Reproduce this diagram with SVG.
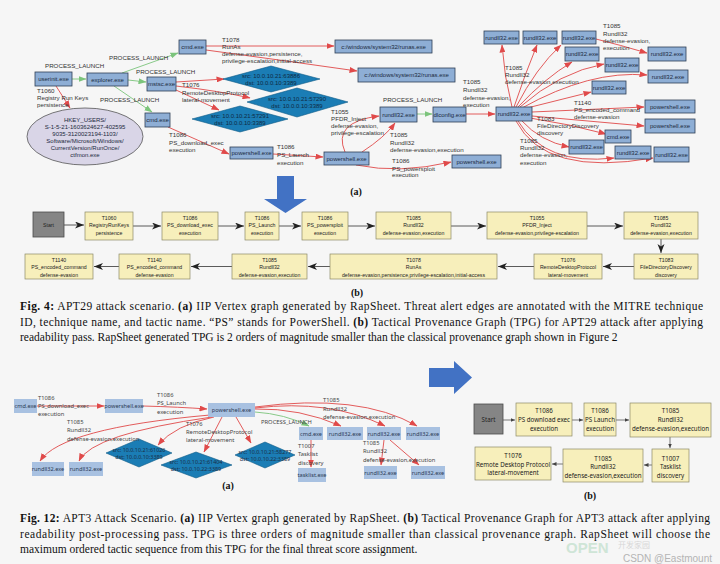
<svg xmlns="http://www.w3.org/2000/svg" width="720" height="564" viewBox="0 0 720 564">
<defs>
<style>
.box{fill:#8eaed5;stroke:#2f3f55;stroke-width:0.8}
.bt{font-family:"Liberation Sans",Arial,sans-serif;font-size:6px;fill:#1c2a3e;text-anchor:middle}
.lbl{font-family:"Liberation Sans",Arial,sans-serif;font-size:6.2px;fill:#333}
.re{stroke:#e04a4a;fill:none;stroke-width:0.9;marker-end:url(#ar)}
.ge{stroke:#7cc47c;fill:none;stroke-width:0.9;marker-end:url(#ag)}
.dia{fill:#1b7db5;stroke:#0e5a87;stroke-width:0.6}
.dt{font-family:"Liberation Sans",Arial,sans-serif;font-size:6px;fill:#0f2a44;text-anchor:middle}
.tpg{fill:#f7efbb;stroke:#8c8a68;stroke-width:0.7}
.start{fill:#858585;stroke:#4a4a4a;stroke-width:0.8}
.tt{font-family:"Liberation Sans",Arial,sans-serif;font-size:5.2px;fill:#222;text-anchor:middle}
.ka{stroke:#333;stroke-width:0.8;fill:none;marker-end:url(#ak)}
.ks{stroke:#444;stroke-width:0.7;fill:none;marker-end:url(#ak2)}
.bb{fill:#a8c1e1}
.bbt{font-family:"Noto Sans","Liberation Sans",sans-serif;font-size:5.6px;fill:#2b3a55;text-anchor:middle}
.bl{font-family:"Noto Sans","Liberation Sans",sans-serif;font-size:5.8px;fill:#444}
.bdt{font-family:"Noto Sans","Liberation Sans",sans-serif;font-size:5.4px;fill:#1a2f47;text-anchor:middle}
.tb{font-family:"Noto Sans","Liberation Sans",sans-serif;font-size:6.2px;fill:#222;text-anchor:middle}
.cap{font-family:"Liberation Serif","Times New Roman",serif;font-size:11.5px;fill:#111}
.sub{font-family:"Liberation Serif","Times New Roman",serif;font-size:10px;font-weight:bold;fill:#111;text-anchor:middle}
.big{fill:#4272c4}
</style>
<marker id="ar" markerUnits="userSpaceOnUse" markerWidth="8" markerHeight="6" refX="7.5" refY="3" orient="auto"><path d="M0,0 L8,3 L0,6 z" fill="#e04a4a"/></marker>
<marker id="ag" markerUnits="userSpaceOnUse" markerWidth="8" markerHeight="6" refX="7.5" refY="3" orient="auto"><path d="M0,0 L8,3 L0,6 z" fill="#7cc47c"/></marker>
<marker id="ak" markerUnits="userSpaceOnUse" markerWidth="10" markerHeight="8" refX="9" refY="3.5" orient="auto"><path d="M0,0 L9,3.5 L0,7 L2.5,3.5 z" fill="#222"/></marker>
<marker id="ak2" markerUnits="userSpaceOnUse" markerWidth="5" markerHeight="4" refX="4.5" refY="2" orient="auto"><path d="M0,0 L4.5,2 L0,4 z" fill="#444"/></marker>
</defs>
<rect x="0" y="0" width="720" height="564" fill="#f6f6f6"/>

<!-- ===== Top graph (a) connectors ===== -->
<g id="top-edges">
<path class="ge" d="M72,79 L86,79"/>
<path class="re" d="M56,86 L70,108"/>
<path class="ge" d="M122,73 L178,53"/>
<path class="ge" d="M128,80 L146,82"/>
<path class="ge" d="M114,86 L152,112"/>
<path class="re" d="M206,46 L334,46"/>
<path class="re" d="M206,50 Q280,60 357,71"/>
<path class="re" d="M176,82 L224,79"/>
<path class="re" d="M176,86 Q220,91 250,98"/>
<path class="re" d="M176,90 L219,110"/>
<path class="re" d="M168,127 L229,154"/>
<path class="re" d="M273,154 L323,157"/>
<path class="re" d="M345,152 Q332,122 379,116"/>
<path class="re" d="M362,152 Q385,137 395,123"/>
<path class="re" d="M356,165 Q400,174 451,162"/>
<path class="ge" d="M417,114 L432,114"/>
<path class="re" d="M466,114 L495,114"/>
<path class="re" d="M512,107 Q504,76 502,45"/>
<path class="re" d="M514,107 Q525,74 537,45"/>
<path class="re" d="M516,107 Q536,68 561,45"/>
<path class="re" d="M518,107 Q545,78 572,62"/>
<path class="re" d="M520,107 Q560,72 604,64"/>
<path class="re" d="M522,108 Q590,70 647,75"/>
<path class="re" d="M527,108 L591,92"/>
<path class="re" d="M532,112 L644,107"/>
<path class="re" d="M532,116 L644,126"/>
<path class="re" d="M530,118 Q570,124 606,134"/>
<path class="re" d="M522,121 Q540,141 569,147"/>
<path class="re" d="M518,121 Q545,166 614,158"/>
<path class="re" d="M516,121 Q545,177 653,158"/>
<path class="re" d="M596,39 Q620,45 647,53"/>
</g>

<!-- ===== Top graph nodes ===== -->
<g id="n-userinit"><rect class="box" x="35" y="72" width="37" height="14"/><text class="bt" x="53.5" y="81.2">userinit.exe</text></g>
<g id="n-explorer"><rect class="box" x="87" y="73" width="41" height="13"/><text class="bt" x="107.5" y="81.7">explorer.exe</text></g>
<g id="n-cmd1"><rect class="box" x="179" y="40" width="27" height="14"/><text class="bt" x="192.5" y="49.2">cmd.exe</text></g>
<g id="n-mstsc"><rect class="box" x="147" y="77" width="29" height="14"/><text class="bt" x="161.5" y="86.2">mstsc.exe</text></g>
<g id="n-cmd2"><rect class="box" x="145" y="113" width="25" height="14"/><text class="bt" x="157.5" y="122.2">cmd.exe</text></g>
<g id="n-hkey">
<ellipse cx="85" cy="136.5" rx="58" ry="28.5" fill="#d9d5e7" stroke="#555" stroke-width="0.8"/>
<text class="bt" x="85"><tspan x="85" y="121.5">HKEY_USERS/</tspan><tspan x="85" y="128.5">S-1-5-21-1603624627-402595</tspan><tspan x="85" y="135.5">9035-3120023194-1103/</tspan><tspan x="85" y="142.5">Software/Microsoft/Windows/</tspan><tspan x="85" y="149.5">CurrentVersion/RunOnce/</tspan><tspan x="85" y="156.5">ctfmon.exe</tspan></text>
</g>
<g id="n-runas1"><rect class="box" x="335" y="40" width="97" height="13"/><text class="bt" x="383.5" y="48.7">c:/windows/system32/runas.exe</text></g>
<g id="n-runas2"><rect class="box" x="358" y="68" width="97" height="14"/><text class="bt" x="406.5" y="77.2">c:/windows/system32/runas.exe</text></g>
<g id="n-d1"><polygon class="dia" points="223,79 271,66 320,79 271,92"/><text class="dt"><tspan x="271" y="77.5">src: 10.0.10.21:63886</tspan><tspan x="271" y="84.5">dst: 10.0.0.10:3389</tspan></text></g>
<g id="n-d2"><polygon class="dia" points="247,102 297,88 348,102 297,117"/><text class="dt"><tspan x="297" y="100.5">src: 10.0.10.21:57290</tspan><tspan x="297" y="107.5">dst: 10.0.0.10:3389</tspan></text></g>
<g id="n-d3"><polygon class="dia" points="192,119 240,106 288,119 240,132"/><text class="dt"><tspan x="240" y="117.5">src: 10.0.10.21:57291</tspan><tspan x="240" y="124.5">dst: 10.0.0.10:3389</tspan></text></g>
<g id="n-ps1"><rect class="box" x="230" y="147" width="43" height="12"/><text class="bt" x="251.5" y="155.2">powershell.exe</text></g>
<g id="n-ps2"><rect class="box" x="324" y="152" width="45" height="13"/><text class="bt" x="346.5" y="160.7">powershell.exe</text></g>
<g id="n-rmid"><rect class="box" x="380" y="107" width="37" height="15"/><text class="bt" x="398.5" y="116.7">rundll32.exe</text></g>
<g id="n-dlconfig"><rect class="box" x="433" y="107" width="33" height="15"/><text class="bt" x="449.5" y="116.7">dlconfig.exe</text></g>
<g id="n-ps3"><rect class="box" x="452" y="155" width="49" height="13"/><text class="bt" x="476.5" y="163.7">powershell.exe</text></g>
<g id="n-rc"><rect class="box" x="496" y="107" width="36" height="14"/><text class="bt" x="514" y="116.2">rundll32.exe</text></g>
<g id="n-r1"><rect class="box" x="484" y="31" width="35" height="13"/><text class="bt" x="501.5" y="39.7">rundll32.exe</text></g>
<g id="n-r2"><rect class="box" x="523" y="31" width="34" height="13"/><text class="bt" x="540" y="39.7">rundll32.exe</text></g>
<g id="n-r3"><rect class="box" x="562" y="31" width="34" height="13"/><text class="bt" x="579" y="39.7">rundll32.exe</text></g>
<g id="n-r4"><rect class="box" x="565" y="47" width="34" height="14"/><text class="bt" x="582" y="56.2">rundll32.exe</text></g>
<g id="n-r5"><rect class="box" x="648" y="47" width="38" height="14"/><text class="bt" x="667" y="56.2">rundll32.exe</text></g>
<g id="n-r6"><rect class="box" x="605" y="58" width="34" height="14"/><text class="bt" x="622" y="67.2">rundll32.exe</text></g>
<g id="n-r7"><rect class="box" x="648" y="70" width="40" height="13"/><text class="bt" x="668" y="78.7">rundll32.exe</text></g>
<g id="n-r8"><rect class="box" x="592" y="81" width="34" height="13"/><text class="bt" x="609" y="89.7">rundll32.exe</text></g>
<g id="n-ps4"><rect class="box" x="645" y="100" width="50" height="13"/><text class="bt" x="670" y="108.7">powershell.exe</text></g>
<g id="n-ps5"><rect class="box" x="645" y="119" width="50" height="14"/><text class="bt" x="670" y="128.2">powershell.exe</text></g>
<g id="n-cmd3"><rect class="box" x="605" y="130" width="26" height="13"/><text class="bt" x="618" y="138.7">cmd.exe</text></g>
<g id="n-r9"><rect class="box" x="569" y="140" width="35" height="14"/><text class="bt" x="586.5" y="149.2">rundll32.exe</text></g>
<g id="n-r10"><rect class="box" x="615" y="146" width="36" height="13"/><text class="bt" x="633" y="154.7">rundll32.exe</text></g>
<g id="n-r11"><rect class="box" x="654" y="147" width="35" height="15"/><text class="bt" x="671.5" y="156.7">rundll32.exe</text></g>

<!-- top edge labels -->
<g id="top-labels" class="lbl">
<text x="45" y="68">PROCESS_LAUNCH</text>
<text x="109" y="60">PROCESS_LAUNCH</text>
<text x="136" y="74">PROCESS_LAUNCH</text>
<text x="100" y="102">PROCESS_LAUNCH</text>
<text x="383" y="102">PROCESS_LAUNCH</text>
<text><tspan x="37" y="93">T1060</tspan><tspan x="37" y="100">Registry Run Keys</tspan><tspan x="37" y="107">persistence</tspan></text>
<text><tspan x="222" y="41.5">T1078</tspan><tspan x="222" y="48.5">RunAs</tspan><tspan x="222" y="55.5">defense-evasion,persistence,</tspan><tspan x="222" y="62.5">privilege-escalation,initial-access</tspan></text>
<text><tspan x="182" y="87">T1076</tspan><tspan x="182" y="94.5">RemoteDesktopProtocol</tspan><tspan x="182" y="101.5">lateral-movement</tspan></text>
<text><tspan x="169" y="137">T1086</tspan><tspan x="169" y="144.5">PS_download_exec</tspan><tspan x="169" y="151.5">execution</tspan></text>
<text><tspan x="277" y="149">T1086</tspan><tspan x="277" y="157">PS_Launch</tspan><tspan x="277" y="164.5">execution</tspan></text>
<text><tspan x="331" y="114">T1055</tspan><tspan x="331" y="120.5">PFDR_Inject</tspan><tspan x="331" y="128">defense-evasion,</tspan><tspan x="331" y="135">privilege-escalation</tspan></text>
<text><tspan x="390" y="137">T1085</tspan><tspan x="390" y="144.5">Rundll32</tspan><tspan x="390" y="151.5">defense-evasion,execution</tspan></text>
<text><tspan x="392" y="163">T1086</tspan><tspan x="392" y="170.5">PS_powersploit</tspan><tspan x="392" y="177">execution</tspan></text>
<text><tspan x="463" y="84">T1085</tspan><tspan x="463" y="92">Rundll32</tspan><tspan x="463" y="100">defense-evasion,</tspan><tspan x="463" y="107">execution</tspan></text>
<text><tspan x="603" y="28">T1085</tspan><tspan x="603" y="35.5">Rundll32</tspan><tspan x="603" y="43">defense-evasion,</tspan><tspan x="603" y="50">execution</tspan></text>
<text><tspan x="505" y="69.5">T1085</tspan><tspan x="505" y="76.5">Rundll32</tspan><tspan x="505" y="83.5">defense-evasion,execution</tspan></text>
<text><tspan x="574" y="105">T1140</tspan><tspan x="574" y="111.5">PS_encoded_command</tspan><tspan x="574" y="119">defense-evasion</tspan></text>
<text><tspan x="537" y="120.5">T1083</tspan><tspan x="537" y="128">FileDirectoryDiscovery</tspan><tspan x="537" y="134.5">discovery</tspan></text>
<text><tspan x="520" y="143">T1085</tspan><tspan x="520" y="150">Rundll32</tspan><tspan x="520" y="157">defense-evasion,</tspan><tspan x="520" y="164.5">execution</tspan></text>
</g>
<text class="sub" x="356" y="195">(a)</text>

<!-- big down arrow -->
<path class="big" d="M277,176 L294,176 L294,199 L307,199 L285.5,213 L264,199 L277,199 z"/>

<!-- ===== TPG (b) top ===== -->
<g id="tpg1-edges">
<path class="ka" d="M64,225 L84,225"/>
<path class="ka" d="M133,226 L161,226"/>
<path class="ka" d="M218,226 L244,226"/>
<path class="ka" d="M279,226 L301,226"/>
<path class="ka" d="M348,226 L375,226"/>
<path class="ka" d="M451,226 L486,226"/>
<path class="ka" d="M587,226 L623,226"/>
<path class="ka" d="M661,239 L661,253"/>
<path class="ka" d="M634,266.5 L603,266.5"/>
<path class="ka" d="M534,266.5 L498,266.5"/>
<path class="ka" d="M330,266.5 L308,266.5"/>
<path class="ka" d="M232,266.5 L191,266.5"/>
<path class="ka" d="M119,266.5 L94,266.5"/>
</g>
<g id="t-start"><rect class="start" x="33" y="212" width="31" height="25"/><text class="tt" x="48.5" y="226.5" fill="#222">Start</text></g>
<g id="t-1060"><rect class="tpg" x="85" y="212" width="48" height="28"/><text class="tt"><tspan x="109" y="219.5">T1060</tspan><tspan x="109" y="227">RegistryRunKeys</tspan><tspan x="109" y="234.5">persistence</tspan></text></g>
<g id="t-1086a"><rect class="tpg" x="162" y="212" width="56" height="28"/><text class="tt"><tspan x="190" y="219.5">T1086</tspan><tspan x="190" y="227">PS_download_exec</tspan><tspan x="190" y="234.5">execution</tspan></text></g>
<g id="t-1086b"><rect class="tpg" x="245" y="212" width="34" height="28"/><text class="tt"><tspan x="262" y="219.5">T1086</tspan><tspan x="262" y="227">PS_Launch</tspan><tspan x="262" y="234.5">execution</tspan></text></g>
<g id="t-1086c"><rect class="tpg" x="302" y="212" width="46" height="28"/><text class="tt"><tspan x="325" y="219.5">T1086</tspan><tspan x="325" y="227">PS_powersploit</tspan><tspan x="325" y="234.5">execution</tspan></text></g>
<g id="t-1085a"><rect class="tpg" x="376" y="212" width="75" height="27"/><text class="tt"><tspan x="413.5" y="219.5">T1085</tspan><tspan x="413.5" y="227">Rundll32</tspan><tspan x="413.5" y="234.5">defense-evasion,execution</tspan></text></g>
<g id="t-1055"><rect class="tpg" x="487" y="212" width="100" height="27"/><text class="tt"><tspan x="537" y="219.5">T1055</tspan><tspan x="537" y="227">PFDR_Inject</tspan><tspan x="537" y="234.5">defense-evasion,privilege-escalation</tspan></text></g>
<g id="t-1085b"><rect class="tpg" x="624" y="212" width="74" height="27"/><text class="tt"><tspan x="661" y="219.5">T1085</tspan><tspan x="661" y="227">Rundll32</tspan><tspan x="661" y="234.5">defense-evasion,execution</tspan></text></g>
<g id="t-1083"><rect class="tpg" x="634" y="254" width="64" height="25"/><text class="tt"><tspan x="666" y="261.5">T1083</tspan><tspan x="666" y="269">FileDirectoryDiscovery</tspan><tspan x="666" y="276.5">discovery</tspan></text></g>
<g id="t-1076"><rect class="tpg" x="534" y="254" width="68" height="25"/><text class="tt"><tspan x="568" y="261.5">T1076</tspan><tspan x="568" y="269">RemoteDesktopProtocol</tspan><tspan x="568" y="276.5">lateral-movement</tspan></text></g>
<g id="t-1078"><rect class="tpg" x="330" y="254" width="167" height="25"/><text class="tt"><tspan x="413.5" y="261.5">T1078</tspan><tspan x="413.5" y="269">RunAs</tspan><tspan x="413.5" y="276.5">defense-evasion,persistence,privilege-escalation,initial-access</tspan></text></g>
<g id="t-1085c"><rect class="tpg" x="232" y="254" width="75" height="25"/><text class="tt"><tspan x="269.5" y="261.5">T1085</tspan><tspan x="269.5" y="269">Rundll32</tspan><tspan x="269.5" y="276.5">defense-evasion,execution</tspan></text></g>
<g id="t-1140a"><rect class="tpg" x="119" y="254" width="71" height="25"/><text class="tt"><tspan x="154.5" y="261.5">T1140</tspan><tspan x="154.5" y="269">PS_encoded_command</tspan><tspan x="154.5" y="276.5">defense-evasion</tspan></text></g>
<g id="t-1140b"><rect class="tpg" x="25" y="254" width="68" height="25"/><text class="tt"><tspan x="59" y="261.5">T1140</tspan><tspan x="59" y="269">PS_encoded_command</tspan><tspan x="59" y="276.5">defense-evasion</tspan></text></g>
<text class="sub" x="357" y="296">(b)</text>

<!-- caption Fig 4 -->
<g id="cap4" class="cap">
<text x="20" y="310" textLength="683" lengthAdjust="spacing"><tspan font-weight="bold">Fig. 4:</tspan> APT29 attack scenario. <tspan font-weight="bold">(a)</tspan> IIP Vertex graph generated by RapSheet. Threat alert edges are annotated with the MITRE technique</text>
<text x="20" y="325.5" textLength="683" lengthAdjust="spacing">ID, technique name, and tactic name. “PS” stands for PowerShell. <tspan font-weight="bold">(b)</tspan> Tactical Provenance Graph (TPG) for APT29 attack after applying</text>
<text x="20" y="341">readability pass. RapSheet generated TPG is 2 orders of magnitude smaller than the classical provenance graph shown in Figure 2</text>
</g>

<!-- ===== Bottom graph (a) ===== -->
<g id="bot-edges">
<path class="re" d="M37,406 L104,406"/>
<path class="re" d="M143,406 Q180,407 207,409"/>
<path class="re" d="M210,415 Q62,428 40,461"/>
<path class="re" d="M212,417 Q92,434 79,461"/>
<path class="re" d="M214,417 Q175,425 158,445"/>
<path class="re" d="M222,417 L204,452"/>
<path class="re" d="M236,417 L251,443"/>
<path class="ge" d="M255,412 Q285,414 309,426"/>
<path class="re" d="M255,409 Q300,408 341,426"/>
<path class="re" d="M255,408 Q330,399 385,426"/>
<path class="re" d="M255,407 Q360,393 417,426"/>
<path class="re" d="M311,440 L311,467"/>
<path class="re" d="M384,440 L381,465"/>
<path class="re" d="M390,440 L419,465"/>
</g>
<g id="b-cmd1"><rect class="bb" x="14" y="399" width="23" height="14"/><text class="bbt" x="25.5" y="408">cmd.exe</text></g>
<g id="b-ps1"><rect class="bb" x="105" y="399" width="38" height="14"/><text class="bbt" x="124" y="408">powershell.exe</text></g>
<g id="b-ps2"><rect class="bb" x="208" y="403" width="47" height="14"/><text class="bbt" x="231.5" y="412">powershell.exe</text></g>
<g id="b-r1"><rect class="bb" x="32" y="462" width="32" height="14"/><text class="bbt" x="48" y="471">rundll32.exe</text></g>
<g id="b-r2"><rect class="bb" x="69" y="462" width="34" height="14"/><text class="bbt" x="86" y="471">rundll32.exe</text></g>
<g id="b-dA"><polygon class="dia" points="106,453 139,439 172,453 139,467"/><text class="bdt"><tspan x="139" y="451.5">src: 10.0.10.21:61026</tspan><tspan x="139" y="458.5">dst: 10.0.0.10:3389</tspan></text></g>
<g id="b-dB"><polygon class="dia" points="161,465 196,452 232,465 196,478"/><text class="bdt"><tspan x="196" y="463.5">src: 10.0.10.21:61404</tspan><tspan x="196" y="470.5">dst: 10.0.10.22:3389</tspan></text></g>
<g id="b-dC"><polygon class="dia" points="235,455 265,442 295,455 265,468"/><text class="bdt"><tspan x="265" y="453.5">src: 10.0.10.21:58277</tspan><tspan x="265" y="460.5">dst: 10.0.10.22:3389</tspan></text></g>
<g id="b-cmd2"><rect class="bb" x="299" y="427" width="24" height="13"/><text class="bbt" x="311" y="435.5">cmd.exe</text></g>
<g id="b-tasklist"><rect class="bb" x="298" y="468" width="28" height="14"/><text class="bbt" x="312" y="477">tasklist.exe</text></g>
<g id="b-r3"><rect class="bb" x="327" y="427" width="36" height="13"/><text class="bbt" x="345" y="435.5">rundll32.exe</text></g>
<g id="b-r4"><rect class="bb" x="367" y="427" width="34" height="13"/><text class="bbt" x="384" y="435.5">rundll32.exe</text></g>
<g id="b-r5"><rect class="bb" x="406" y="427" width="34" height="13"/><text class="bbt" x="423" y="435.5">rundll32.exe</text></g>
<g id="b-r6"><rect class="bb" x="364" y="466" width="33" height="13"/><text class="bbt" x="380.5" y="474.5">rundll32.exe</text></g>
<g id="b-r7"><rect class="bb" x="411" y="466" width="34" height="13"/><text class="bbt" x="428" y="474.5">rundll32.exe</text></g>
<g id="bot-labels" class="bl">
<text><tspan x="38" y="400">T1086</tspan><tspan x="38" y="408">PS_download_exec</tspan><tspan x="38" y="416">execution</tspan></text>
<text><tspan x="157" y="397">T1086</tspan><tspan x="157" y="405">PS_Launch</tspan><tspan x="157" y="414">execution</tspan></text>
<text><tspan x="67" y="424">T1085</tspan><tspan x="67" y="432">Rundll32</tspan><tspan x="67" y="441">defense-evasion,execution</tspan></text>
<text><tspan x="186" y="426">T1076</tspan><tspan x="186" y="434">RemoteDesktopProtocol</tspan><tspan x="186" y="442">lateral-movement</tspan></text>
<text x="261" y="424">PROCESS_LAUNCH</text>
<text><tspan x="298" y="448">T1007</tspan><tspan x="298" y="456">Tasklist</tspan><tspan x="298" y="465">discovery</tspan></text>
<text><tspan x="323" y="402">T1085</tspan><tspan x="323" y="411">Rundll32</tspan><tspan x="323" y="419">defense-evasion,execution</tspan></text>
<text><tspan x="363" y="445">T1085</tspan><tspan x="363" y="453">Rundll32</tspan><tspan x="363" y="462">defense-evasion,execution</tspan></text>
</g>
<text class="sub" x="228" y="489">(a)</text>

<!-- big right arrow -->
<path class="big" d="M429,368 L454,368 L454,361 L472,377.5 L454,394 L454,387 L429,387 z"/>

<!-- ===== TPG (b) bottom ===== -->
<g id="tpg2-edges">
<path class="ks" d="M503,420 L515,420"/>
<path class="ks" d="M572,420 L583,420"/>
<path class="ks" d="M616,420 L629,420"/>
<path class="ks" d="M670,437 L670,448"/>
<path class="ks" d="M652,465 L644,465"/>
<path class="ks" d="M563,464 L552,464"/>
</g>
<g id="u-start"><rect class="start" x="474" y="404" width="29" height="30"/><text class="tb" x="488.5" y="421.5">Start</text></g>
<g id="u-1086a"><rect class="tpg" x="516" y="403" width="56" height="33"/><text class="tb"><tspan x="544" y="413">T1086</tspan><tspan x="544" y="422">PS download exec</tspan><tspan x="544" y="430.5">execution</tspan></text></g>
<g id="u-1086b"><rect class="tpg" x="584" y="403" width="32" height="33"/><text class="tb"><tspan x="600" y="413">T1086</tspan><tspan x="600" y="422">PS Launch</tspan><tspan x="600" y="430.5">execution</tspan></text></g>
<g id="u-1085a"><rect class="tpg" x="630" y="403" width="81" height="34"/><text class="tb"><tspan x="670.5" y="413">T1085</tspan><tspan x="670.5" y="422">Rundll32</tspan><tspan x="670.5" y="430.5">defense-evasion,execution</tspan></text></g>
<g id="u-1007"><rect class="tpg" x="652" y="449" width="37" height="33"/><text class="tb"><tspan x="670.5" y="460.5">T1007</tspan><tspan x="670.5" y="469">Tasklist</tspan><tspan x="670.5" y="477.5">discovery</tspan></text></g>
<g id="u-1085b"><rect class="tpg" x="563" y="449" width="80" height="33"/><text class="tb"><tspan x="603" y="460.5">T1085</tspan><tspan x="603" y="469">Rundll32</tspan><tspan x="603" y="477.5">defense-evasion,execution</tspan></text></g>
<g id="u-1076"><rect class="tpg" x="475" y="447" width="76" height="33"/><text class="tb"><tspan x="513" y="457.5">T1076</tspan><tspan x="513" y="466.5">Remote Desktop Protocol</tspan><tspan x="513" y="474.5">lateral-movement</tspan></text></g>
<text class="sub" x="590" y="499">(b)</text>

<!-- caption Fig 12 -->
<g id="cap12" class="cap">
<text x="20" y="522" textLength="690" lengthAdjust="spacing"><tspan font-weight="bold">Fig. 12:</tspan> APT3 Attack Scenario. <tspan font-weight="bold">(a)</tspan> IIP Vertex graph generated by RapSheet. <tspan font-weight="bold">(b)</tspan> Tactical Provenance Graph for APT3 attack after applying</text>
<text x="20" y="537.5" textLength="690" lengthAdjust="spacing">readability post-processing pass. TPG is three orders of magnitude smaller than classical provenance graph. RapSheet will choose the</text>
<text x="20" y="553">maximum ordered tactic sequence from this TPG for the final threat score assignment.</text>
</g>

<!-- watermark -->
<g id="watermark">
<text x="566" y="553" font-family="'Liberation Sans',Arial,sans-serif" font-size="15" font-weight="bold" fill="#cfe5d7">OPEN</text>
<text x="618" y="548" font-family="'Noto Sans CJK SC',sans-serif" font-size="8" fill="#d6d6d6">开发家园</text>
<text x="712" y="562" text-anchor="end" font-family="'Liberation Sans',Arial,sans-serif" font-size="10" fill="#b4b4b4">CSDN @Eastmount</text>
</g>
</svg>
